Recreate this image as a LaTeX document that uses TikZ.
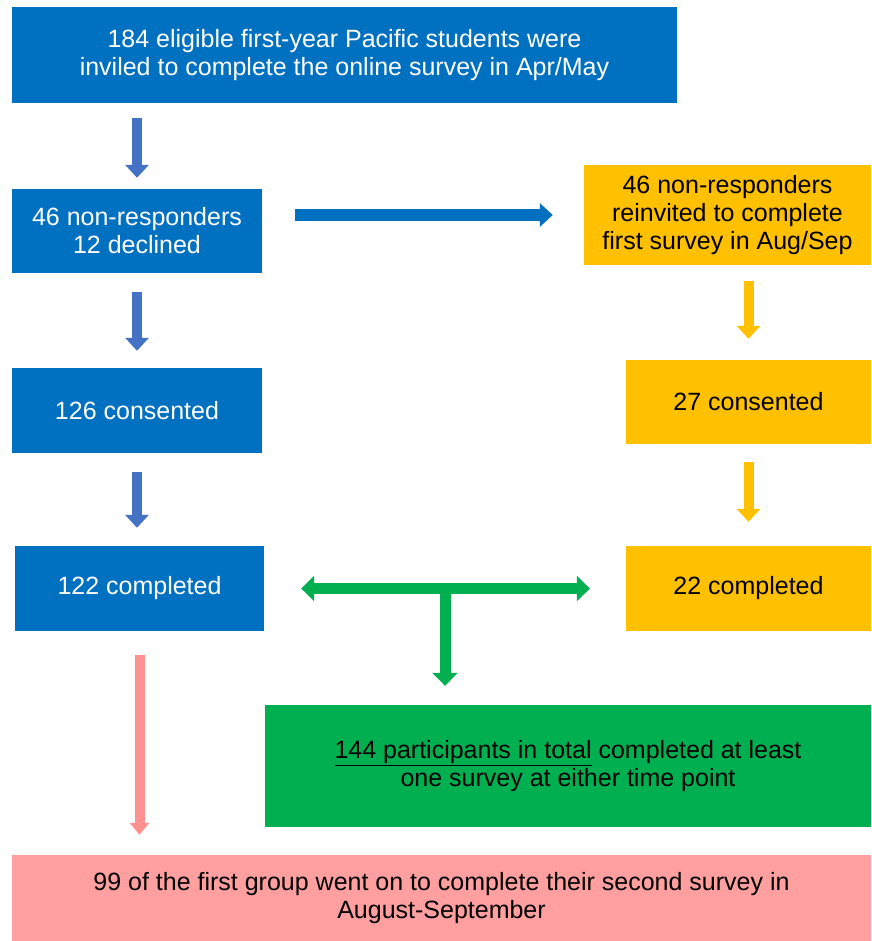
\documentclass[tikz,border=0pt]{standalone}
\usepackage{fontspec}
\setmainfont{Liberation Sans}
\usetikzlibrary{arrows.meta}
\definecolor{boxblue}{HTML}{0070C0}
\definecolor{arrowblue}{HTML}{4472C4}
\definecolor{boxyellow}{HTML}{FFC000}
\definecolor{boxgreen}{HTML}{00B050}
\definecolor{boxpink}{HTML}{FF9F9F}
\definecolor{arrowpink}{HTML}{FF9191}

\begin{document}
\begin{tikzpicture}
  [
    x=1pt, y=-1pt,
    box/.style={rectangle, inner sep=0pt, align=center,
      font=\fontsize{25}{28}\selectfont},
    bluebox/.style={box, fill=boxblue, text=white},
    yellowbox/.style={box, fill=boxyellow, text=black},
    blockarrow/.style={line width=10pt, -{Triangle[width=23pt,length=13pt]}},
  ]
    \useasboundingbox (0,0) rectangle (871,941);

    % blue boxes
    \node [bluebox, minimum width=665pt, minimum height=96pt] (invited) at (344.5,55)
      {184 eligible first-year Pacific students were\\inviled to complete the online survey in Apr/May};
    \node [bluebox, minimum width=250pt, minimum height=84pt] (nonresp) at (137,231)
      {46 non-responders\\12 declined};
    \node [bluebox, minimum width=250pt, minimum height=85pt] (consA) at (137,410.5)
      {126 consented};
    \node [bluebox, minimum width=249pt, minimum height=85pt] (doneA) at (139.5,588.5)
      {122 completed};

    % yellow boxes
    \node [yellowbox, minimum width=287pt, minimum height=100pt] (reinvite) at (727.5,215)
      {46 non-responders\\reinvited to complete\\first survey in Aug/Sep};
    \node [yellowbox, minimum width=245pt, minimum height=84pt] (consB) at (748.5,402)
      {27 consented};
    \node [yellowbox, minimum width=245pt, minimum height=85pt] (doneB) at (748.5,588.5)
      {22 completed};

    % totals
    \node [box, fill=boxgreen, minimum width=606pt, minimum height=122pt] (total) at (568,766)
      {\underline{144 participants in total} completed at least\\one survey at either time point};
    \node [box, fill=boxpink, minimum width=859pt, minimum height=86pt] (second) at (441.5,898)
      {99 of the first group went on to complete their second survey in\\August-September};

    % arrows first survey
    \draw [blockarrow, arrowblue, shorten <=15pt, shorten >=11pt]
      (invited.south -| nonresp.north) -- (nonresp.north);
    \draw [blockarrow, arrowblue, shorten <=19pt, shorten >=17pt] (nonresp.south) -- (consA.north);
    \draw [blockarrow, arrowblue, shorten <=19pt, shorten >=18pt]
      (consA.south) -- (consA.south |- doneA.north);
    \draw [blockarrow, boxblue, line width=12pt, shorten <=33pt, shorten >=31pt]
      (nonresp.east |- reinvite.west) -- (reinvite.west);

    % arrows second invitation
    \draw [blockarrow, boxyellow, shorten <=16pt, shorten >=21pt]
      (consB.north |- reinvite.south) -- (consB.north);
    \draw [blockarrow, boxyellow, shorten <=18pt, shorten >=24pt] (consB.south) -- (doneB.north);

    % tee
    \coordinate (tee) at (445,588.5);
    \draw [blockarrow, boxgreen, line width=11pt, {Triangle[width=25pt,length=13pt]}-{Triangle[width=25pt,length=13pt]},
      shorten <=37pt, shorten >=36pt] (doneA.east) -- (doneB.west);
    \draw [blockarrow, boxgreen, line width=11pt, -{Triangle[width=25pt,length=13pt]}, shorten >=19pt]
      (tee) -- (tee |- total.north);

    % second survey
    \draw [blockarrow, arrowpink, -{Triangle[width=19pt,length=12pt]}, shorten <=24pt, shorten >=20pt]
      (doneA.south) -- (doneA.south |- second.north);
  \end{tikzpicture}
\end{document}
